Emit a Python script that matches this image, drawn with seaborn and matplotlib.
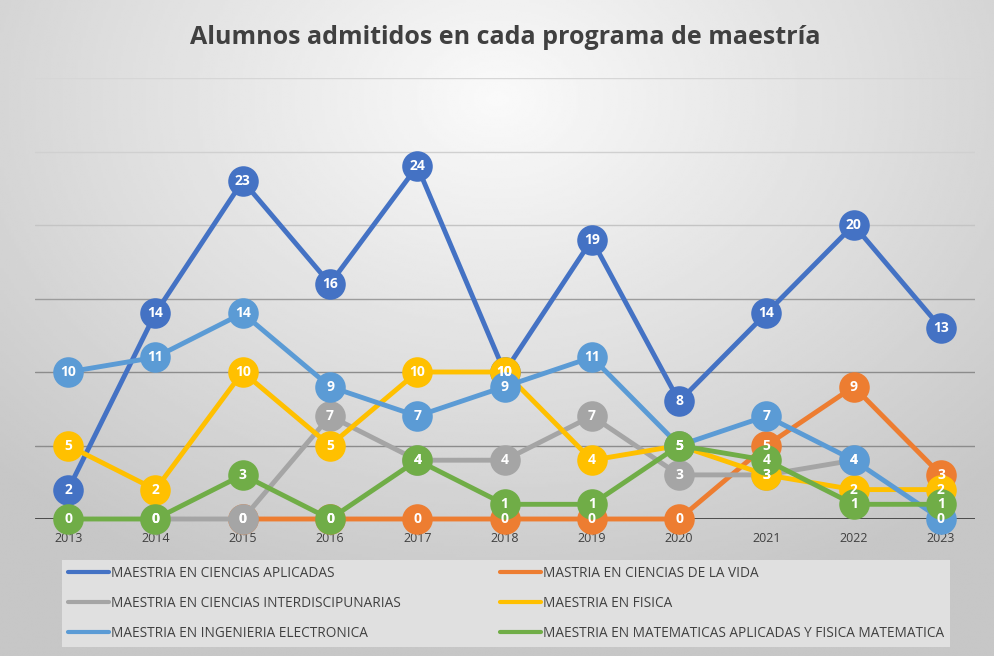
import numpy as np
import pandas as pd
import matplotlib.pyplot as plt
from matplotlib.lines import Line2D
import seaborn as sns

years = [2013, 2014, 2015, 2016, 2017, 2018, 2019, 2020, 2021, 2022, 2023]

programs = ["MAESTRIA EN CIENCIAS APLICADAS", "MASTRIA EN CIENCIAS DE LA VIDA",
            "MAESTRIA EN CIENCIAS INTERDISCIPUNARIAS", "MAESTRIA EN FISICA",
            "MAESTRIA EN INGENIERIA ELECTRONICA",
            "MAESTRIA EN MATEMATICAS APLICADAS Y FISICA MATEMATICA"]

aplicadas = [2, 14, 23, 16, 24, 10, 19, 8, 14, 20, 13]
vida = [None, None, 0, 0, 0, 0, 0, 0, 5, 9, 3]
interdisciplinarias = [None, 0, 0, 7, 4, 4, 7, 3, 3, 4, None]
fisica = [5, 2, 10, 5, 10, 10, 4, 5, 3, 2, 2]
electronica = [10, 11, 14, 9, 7, 9, 11, 5, 7, 4, 0]
matematicas = [0, 0, 3, 0, 4, 1, 1, 5, 4, 1, 1]

colors = ["#4472C4", "#ED7D31", "#A5A5A5", "#FFC000", "#5B9BD5", "#70AD47"]

series = [aplicadas, vida, interdisciplinarias, fisica, electronica, matematicas]
rows = []
for name, vals in zip(programs, series):
    for y, v in zip(years, vals):
        if v is not None:
            rows.append({"Año": y, "Alumnos": v, "Programa": name})
df = pd.DataFrame(rows)

sns.set_style("white")
plt.rcParams['font.family'] = ['Open Sans', 'DejaVu Sans']

fig = plt.figure(figsize=(9.95, 6.56), dpi=100)

# gradient background like the Excel chart area
bg = fig.add_axes([0, 0, 1, 1], zorder=0)
gx, gy = np.meshgrid(np.linspace(-1, 1, 400), np.linspace(-1, 1, 300))
r = np.sqrt((gx * 0.85) ** 2 + ((gy + 0.7) * 0.75) ** 2)
shade = 0.98 - 0.2 * np.clip(r, 0, 1.2) / 1.2
bg.imshow(shade, cmap="gray", vmin=0, vmax=1, aspect="auto",
          extent=[0, 1, 0, 1], interpolation="bilinear")
bg.set_axis_off()

ax = fig.add_axes([35 / 995, 137 / 656, 940 / 995, 441 / 656], zorder=1)
ax.patch.set_alpha(0)

for i, (name, col) in enumerate(zip(programs, colors)):
    sub = df[df["Programa"] == name]
    sns.lineplot(data=sub, x="Año", y="Alumnos", color=col, linewidth=3.5,
                 marker="o", markersize=22, markeredgewidth=0, legend=False,
                 clip_on=False, ax=ax, zorder=3 + i)
    for _, row in sub.iterrows():
        ax.text(row["Año"], row["Alumnos"], str(row["Alumnos"]), color="white",
                fontsize=10, fontweight="bold", ha="center", va="center", zorder=20)

ax.set_xlim(2012.62, 2023.39)
ax.set_ylim(0, 30)
ax.set_yticks([])
ax.set_xticks(years)
ax.tick_params(axis="x", length=0, labelsize=9, colors="#404040", pad=9)
grid_colors = ["#8c8c8c", "#8c8c8c", "#9c9c9c", "#c4c4c4", "#d0d0d0", "#d6d6d6"]
for v, gc in zip([5, 10, 15, 20, 25, 30], grid_colors):
    ax.axhline(v, color=gc, linewidth=1, zorder=1)
ax.axhline(0, color="#404040", linewidth=2, zorder=2)
ax.set_xlabel("")
ax.set_ylabel("")
for s in ax.spines.values():
    s.set_visible(False)

# legend in row order like Excel (matplotlib fills by column)
order = [0, 2, 4, 1, 3, 5]
handles = [Line2D([], [], color=colors[k], linewidth=3) for k in order]
labels = [programs[k] for k in order]
fig.legend(handles, labels, ncol=2, loc="upper left",
           bbox_to_anchor=(62 / 995, 1 - 645 / 656, 888 / 995, 85 / 656),
           mode="expand", frameon=True, facecolor="#e0e0e0", edgecolor="none",
           fancybox=False, framealpha=1, fontsize=9.8, labelcolor="#404040",
           handlelength=3.0, handletextpad=0.15, borderaxespad=0,
           labelspacing=1.1, columnspacing=1, borderpad=0.45)

fig.text(505 / 995, 1 - 38 / 656, "Alumnos admitidos en cada programa de maestría",
         ha="center", va="center", fontsize=18, fontweight="bold", color="#404040")

fig.savefig("out.png", dpi=100)
